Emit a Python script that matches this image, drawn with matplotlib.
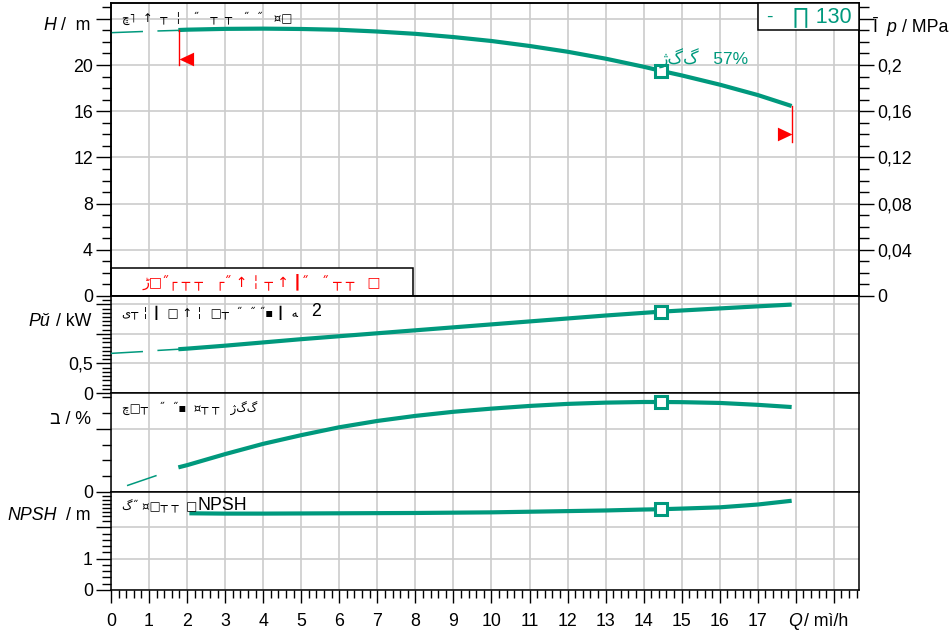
import numpy as np
import matplotlib
matplotlib.use("Agg")
import matplotlib.pyplot as plt
from matplotlib.ticker import FixedLocator, FixedFormatter

plt.rcParams['font.family'] = ['Liberation Sans', 'DejaVu Sans']

# ---------------- data ----------------
q_main = [1.77, 2, 3, 4, 5, 6, 7, 8, 9, 10, 11, 12, 13, 14, 14.45, 15, 16, 17, 17.89]
H_main = [23.03, 23.06, 23.13, 23.15, 23.12, 23.05, 22.9, 22.7, 22.42, 22.08, 21.65,
          21.15, 20.55, 19.85, 19.5, 19.1, 18.3, 17.4, 16.45]
q_H_ext = [0, 0.82, np.nan, 1.24, 1.77]
H_ext = [22.8, 22.9, np.nan, 22.95, 23.0]

P_main = [0.74, 0.75, 0.80, 0.855, 0.91, 0.96, 1.01, 1.06, 1.11, 1.16, 1.21,
          1.26, 1.31, 1.355, 1.375, 1.395, 1.43, 1.465, 1.495]
P_ext = [0.67, 0.70, np.nan, 0.72, 0.74]

eta_main = [15.6, 17.0, 24.0, 30.5, 36.0, 41.0, 45.0, 48.2, 50.8, 52.8, 54.5,
            55.8, 56.6, 57.0, 57.0, 56.9, 56.4, 55.2, 53.8]
q_eta_ext = [0.44, 1.18]
eta_ext = [4.2, 10.3]

q_npsh = [2.06, 3, 4, 6, 8, 10, 12, 13, 14, 14.45, 15, 16, 17, 17.89]
npsh = [2.45, 2.44, 2.44, 2.45, 2.46, 2.48, 2.52, 2.54, 2.57, 2.58, 2.60, 2.64, 2.73, 2.85]

q_op = 14.45
H_op, P_op, eta_op, npsh_op = 19.5, 1.375, 57.0, 2.58
q_min, H_min_mark = 1.78, 20.0
q_max, H_max_mark = 17.89, 13.3
tri_left_H = 20.5
tri_right_H = 14.0

x_ticks = list(range(0, 18))
H_ticks = [0, 4, 8, 12, 16, 20, 24]
H_labels = ['0', '4', '8', '12', '16', '20', '']
p_ticks = [0, 0.04, 0.08, 0.12, 0.16, 0.2, 0.24]
p_labels = ['0', '0,04', '0,08', '0,12', '0,16', '0,2', '']
P_ticks = [0, 0.5, 1.0, 1.5]
P_labels = ['0', '0,5', '', '']
eta_ticks = [0, 40]
eta_labels = ['0', '']
npsh_ticks = [0, 1, 2]
npsh_labels = ['0', '1', '']

op_label = "ژگگ   57%"
box_label_a = "-"
box_label_b = "∏ 130"
note_H = "ڇ˥  ↑  ┬  ╎   ˝   ┬  ┬   ˝  ˝   ¤□"
note_red = "ڑ□˝┌ ┬ ┬   ┌˝ ↑ ╎ ┬ ↑ ┃˝   ˝ ┬ ┬   □"
note_P = "ی┬ ╎ ┃  □ ↑ ╎  □┬  ˝  ˝ ˝▪ ┃  ﻪ"
note_eta = "چ□┬   ˝  ˝▪  ¤┬ ┬   ژگگ"
note_npsh = "گ˝ ¤□┬ ┬  □"

# ---------------- styling ----------------
TEAL = '#00997d'
GRID = '#cccccc'
W, Hh = 953, 634
XMAX = 19.66
FS = 12.8


def fx(px):
    return px / W


def fy(py):
    return 1 - py / Hh


fig = plt.figure(figsize=(9.53, 6.34), dpi=100)
left, right = 111, 859


def make_ax(top, bottom):
    return fig.add_axes([fx(left), fy(bottom), fx(right) - fx(left), (bottom - top) / Hh])


axH = make_ax(3, 296)
axP = make_ax(296, 393)
axE = make_ax(393, 492)
axN = make_ax(492, 590)
axes = [axH, axP, axE, axN]

for ax in axes:
    ax.set_xlim(0, XMAX)
    ax.xaxis.set_major_locator(FixedLocator(range(0, 20)))
    ax.grid(True, axis='x', color=GRID, lw=1.2, zorder=0)
    ax.grid(True, axis='y', color=GRID, lw=1.2, zorder=0)
    for s in ax.spines.values():
        s.set_linewidth(1.1)
    ax.tick_params(axis='y', which='major', direction='out', length=11, width=1.0,
                   labelsize=FS, pad=2)
    ax.tick_params(axis='y', which='minor', direction='out', length=6.5, width=1.0)
    ax.set_axisbelow(True)
    if ax is not axN:
        ax.tick_params(axis='x', which='both', bottom=False, labelbottom=False)

# bottom x axis
axN.xaxis.set_major_formatter(FixedFormatter([str(v) for v in x_ticks] + ['', '']))
axN.xaxis.set_minor_locator(FixedLocator(np.arange(0, XMAX, 0.2)))
axN.tick_params(axis='x', which='major', direction='out', length=9.5, width=1.0,
                labelsize=FS, pad=7)
axN.tick_params(axis='x', which='minor', direction='out', length=6, width=1.0)

# H panel
axH.set_ylim(0, 25.37)
axH.yaxis.set_major_locator(FixedLocator(H_ticks))
axH.yaxis.set_major_formatter(FixedFormatter(H_labels))
axH.yaxis.set_minor_locator(FixedLocator(np.arange(0, 26, 1)))
axHr = axH.twinx()
axHr.set_ylim(0, 0.2537)
axHr.yaxis.set_major_locator(FixedLocator(p_ticks))
axHr.yaxis.set_major_formatter(FixedFormatter(p_labels))
axHr.yaxis.set_minor_locator(FixedLocator(np.arange(0, 0.26, 0.01)))
axHr.tick_params(axis='y', which='major', direction='out', length=11, width=1.0,
                 labelsize=FS, pad=2)
axHr.tick_params(axis='y', which='minor', direction='out', length=7, width=1.0)
for s in axHr.spines.values():
    s.set_linewidth(1.1)

axH.plot(q_H_ext, H_ext, color=TEAL, lw=1.1, zorder=3)
axH.plot(q_main, H_main, color=TEAL, lw=3.0, solid_capstyle='butt', zorder=4)
axH.plot([q_op], [H_op], 's', ms=8, mfc='white', mec=TEAL, mew=2.2, zorder=5)
# min / max flow markers
axH.plot([q_min, q_min], [H_main[0], H_min_mark], color='red', lw=1.0, zorder=4)
axH.plot([q_max, q_max], [H_main[-1], H_max_mark], color='red', lw=1.0, zorder=4)
tri_l = [(0, 0), (1, 0.47), (1, -0.47), (0, 0)]
tri_r = [(0, 0), (-1, 0.47), (-1, -0.47), (0, 0)]
axH.plot([q_min], [tri_left_H], marker=tri_l, ms=21, color='red', mec='none', zorder=5)
axH.plot([q_max], [tri_right_H], marker=tri_r, ms=21, color='red', mec='none', zorder=5)

# P panel
axP.set_ylim(0, 1.64)
axP.yaxis.set_major_locator(FixedLocator(P_ticks))
axP.yaxis.set_major_formatter(FixedFormatter(P_labels))
axP.yaxis.set_minor_locator(FixedLocator(np.arange(0, 1.64, 0.5 / 7)))
axP.plot(q_H_ext, P_ext, color=TEAL, lw=1.1, zorder=3)
axP.plot(q_main, P_main, color=TEAL, lw=3.0, solid_capstyle='butt', zorder=4)
axP.plot([q_op], [P_op], 's', ms=8, mfc='white', mec=TEAL, mew=2.2, zorder=5)

# eta panel
axE.set_ylim(0, 62.7)
axE.yaxis.set_major_locator(FixedLocator(eta_ticks))
axE.yaxis.set_major_formatter(FixedFormatter(eta_labels))
axE.yaxis.set_minor_locator(FixedLocator(np.arange(0, 62, 10)))
axE.plot(q_eta_ext, eta_ext, color=TEAL, lw=1.1, zorder=3)
axE.plot(q_main, eta_main, color=TEAL, lw=3.0, solid_capstyle='butt', zorder=4)
axE.plot([q_op], [eta_op], 's', ms=8, mfc='white', mec=TEAL, mew=2.2, zorder=5)

# NPSH panel
axN.set_ylim(0, 3.13)
axN.yaxis.set_major_locator(FixedLocator(npsh_ticks))
axN.yaxis.set_major_formatter(FixedFormatter(npsh_labels))
axN.yaxis.set_minor_locator(FixedLocator(list(np.arange(0, 2.01, 0.2)) +
                                         [2.21, 2.35, 2.48, 2.61, 2.75, 2.88, 3.0]))
axN.plot(q_npsh, npsh, color=TEAL, lw=3.0, solid_capstyle='butt', zorder=4)
axN.plot([q_op], [npsh_op], 's', ms=8, mfc='white', mec=TEAL, mew=2.2, zorder=5)

# ---------------- texts ----------------
fig.text(fx(43), fy(26), "H", ha='left', va='center', fontsize=FS, style='italic')
fig.text(fx(90), fy(26), "/  m", ha='right', va='center', fontsize=FS)
fig.text(fx(28), fy(321), "Pŭ", ha='left', va='center', fontsize=FS, style='italic')
fig.text(fx(91), fy(321), "/ kW", ha='right', va='center', fontsize=FS)
fig.text(fx(91), fy(419), "ב / %", ha='right', va='center', fontsize=FS)
fig.text(fx(7), fy(515), "NPSH", ha='left', va='center', fontsize=FS, style='italic')
fig.text(fx(91), fy(515), "/ m", ha='right', va='center', fontsize=FS)
fig.text(fx(788), fy(622), "Q", ha='left', va='center', fontsize=FS, style='italic')
fig.text(fx(804), fy(622), "/ mì/h", ha='left', va='center', fontsize=FS)
fig.text(fx(873), fy(27), "Ī", ha='left', va='center', fontsize=FS)
fig.text(fx(886), fy(27), "p", ha='left', va='center', fontsize=FS, style='italic')
fig.text(fx(902), fy(27), "/ MPa", ha='left', va='center', fontsize=FS)

fig.text(fx(122), fy(18), note_H, ha='left', va='center', fontsize=8.5,
         family=['DejaVu Sans'])
fig.text(fx(122), fy(313), note_P, ha='left', va='center', fontsize=8.5,
         family=['DejaVu Sans'])
fig.text(fx(311), fy(311), "2", ha='left', va='center', fontsize=FS)
fig.text(fx(122), fy(409), note_eta, ha='left', va='center', fontsize=8.5,
         family=['DejaVu Sans'])
fig.text(fx(122), fy(507), note_npsh, ha='left', va='center', fontsize=8.5,
         family=['DejaVu Sans'])
fig.text(fx(198), fy(506), "NPSH", ha='left', va='center', fontsize=FS)

# red box
axH.add_patch(plt.Rectangle((0, 0), 7.95, 2.4, fill=False, ec='black', lw=1.1,
                            zorder=6, clip_on=False))
axH.add_patch(plt.Rectangle((0, 0), 7.95, 2.4, fc='white', ec='none', zorder=2))
fig.text(fx(262), fy(282), note_red, ha='center', va='center', fontsize=10,
         color='red', family=['DejaVu Sans'])

# operating point label
fig.text(fx(660), fy(59), op_label, ha='left', va='center', fontsize=12.5, color=TEAL,
         family=['Liberation Sans', 'DejaVu Sans'])

# top right box
fig.patches.append(plt.Rectangle((fx(758), fy(30)), fx(859) - fx(758), (30 - 3) / Hh,
                                 transform=fig.transFigure, fc='white', ec='black',
                                 lw=1.1, zorder=10))
fig.text(fx(766), fy(17), box_label_a, ha='left', va='center', fontsize=14,
         color=TEAL, zorder=11)
fig.text(fx(792), fy(17), box_label_b, ha='left', va='center', fontsize=15.5,
         color=TEAL, zorder=11)

fig.savefig("out.png", dpi=100)
